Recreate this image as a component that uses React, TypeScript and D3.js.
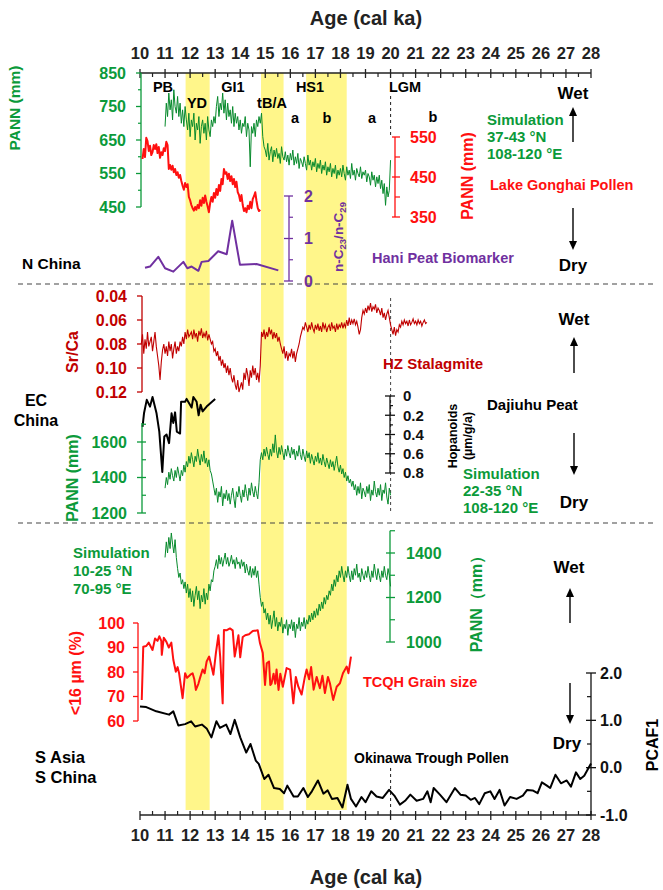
import React from "react";
import * as d3 from "d3";

// ---------------- DATA ----------------
const AGE_TICKS = [10, 11, 12, 13, 14, 15, 16, 17, 18, 19, 20, 21, 22, 23, 24, 25, 26, 27, 28];
const AGE_MINOR = [10.5, 11.5, 12.5, 13.5, 14.5, 15.5, 16.5, 17.5, 18.5, 19.5, 20.5, 21.5, 22.5, 23.5, 24.5, 25.5, 26.5, 27.5];
const BANDS: [number, number][] = [[11.82, 12.78], [14.83, 15.73], [16.63, 18.25]];

// N China simulation (37-43N, 108-120E), 11.0 - 20.0 ka, every 0.05 ka
const N_SIM_START = 11.0;
const N_SIM = [
  690, 760, 720, 790, 740, 770, 710, 800, 750, 730,
  780, 720, 760, 700, 740, 690, 750, 710, 680, 730,
  660, 710, 690, 730, 650, 700, 680, 720, 640, 690,
  710, 670, 700, 650, 720, 680, 660, 710, 690, 720,
  700, 750, 780, 720, 760, 740, 790, 730, 770, 710,
  760, 720, 740, 700, 750, 690, 730, 700, 720, 680,
  710, 670, 700, 690, 720, 660, 700, 680, 570, 690,
  670, 700, 660, 710, 690, 720, 700, 730, 660, 630,
  620, 600, 640, 590, 615, 630, 585, 620, 600, 625,
  595, 610, 580, 630, 600, 590, 615, 585, 605, 575,
  610, 590, 620, 575, 600, 580, 610, 565, 595, 585,
  570, 600, 580, 560, 605, 575, 590, 560, 585, 570,
  595, 555, 580, 565, 590, 550, 575, 560, 585, 545,
  570, 555, 580, 540, 565, 550, 575, 535, 560, 545,
  565, 540, 575, 550, 530, 570, 545, 560, 535, 580,
  545, 560, 530, 565, 550, 540, 570, 535, 555, 545,
  560, 525, 550, 540, 515, 555, 530, 545, 510, 540,
  520, 545, 505, 530, 490, 520, 455, 510, 480, 500,
  590,
];

// Lake Gonghai pollen PANN, 10.1 - 14.8 ka every 0.05 ka
const GONGHAI_START = 10.1;
const GONGHAI = [
  495, 520, 500, 548, 540, 515, 528, 505, 512, 530,
  520, 532, 510, 525, 498, 512, 505, 522, 515, 538,
  530, 470, 480, 468, 478, 462, 470, 455, 462, 448,
  455, 440, 428, 418, 435, 425, 432, 400, 392, 380,
  372, 366, 375, 368, 380, 372, 392, 378, 398, 385,
  404, 388, 376, 362, 385, 400, 388, 410, 398, 420,
  405, 430, 415, 445, 432, 470, 458, 462, 445, 458,
  440, 452, 432, 445, 425, 438, 412, 405, 390, 405,
  380, 365, 372, 362, 378, 370, 388, 372, 395, 402,
  412, 390, 372, 365, 368,
];

// Hani peat n-C23/n-C29
const HANI_AGE = [10.2, 10.4, 10.73, 11.0, 11.33, 11.73, 11.89, 12.06, 12.33, 12.46, 12.73, 13.12, 13.46, 13.68, 13.99, 14.65, 15.52];
const HANI_VAL = [0.31, 0.34, 0.57, 0.3, 0.22, 0.45, 0.3, 0.34, 0.24, 0.45, 0.47, 0.7, 0.63, 1.42, 0.38, 0.4, 0.25];

// HZ stalagmite Sr/Ca, 10.05 - 21.45 ka every 0.05 ka
const HZ_START = 10.05;
const HZ = [
  0.080, 0.072, 0.088, 0.076, 0.084, 0.070, 0.082, 0.078, 0.074, 0.086,
  0.078, 0.070, 0.082, 0.090, 0.098, 0.110, 0.095, 0.085, 0.080, 0.088,
  0.082, 0.090, 0.078, 0.086, 0.080, 0.092, 0.084, 0.078, 0.088, 0.082,
  0.086, 0.078, 0.082, 0.074, 0.080, 0.070, 0.076, 0.068, 0.074, 0.072,
  0.070, 0.076, 0.068, 0.074, 0.071, 0.078, 0.069, 0.073, 0.067, 0.075,
  0.071, 0.074, 0.069, 0.077, 0.072, 0.076, 0.080, 0.078, 0.086, 0.084,
  0.090, 0.086, 0.094, 0.090, 0.098, 0.093, 0.100, 0.096, 0.104, 0.098,
  0.106, 0.100, 0.108, 0.112, 0.106, 0.114, 0.118, 0.110, 0.120, 0.116,
  0.112, 0.118, 0.104, 0.110, 0.100, 0.106, 0.115, 0.102, 0.108, 0.098,
  0.106, 0.100, 0.110, 0.104, 0.112, 0.098, 0.070, 0.074, 0.068, 0.076,
  0.070, 0.074, 0.066, 0.072, 0.068, 0.076, 0.070, 0.075, 0.071, 0.078,
  0.074, 0.080, 0.084, 0.088, 0.082, 0.092, 0.086, 0.094, 0.088, 0.090,
  0.084, 0.092, 0.086, 0.095, 0.088, 0.084, 0.080, 0.074, 0.070, 0.066,
  0.068, 0.062, 0.066, 0.070, 0.064, 0.068, 0.062, 0.067, 0.070, 0.064,
  0.068, 0.063, 0.069, 0.065, 0.070, 0.062, 0.067, 0.064, 0.070, 0.066,
  0.064, 0.069, 0.062, 0.067, 0.065, 0.070, 0.063, 0.068, 0.064, 0.066,
  0.062, 0.067, 0.063, 0.066, 0.060, 0.065, 0.058, 0.064, 0.060, 0.063,
  0.059, 0.064, 0.061, 0.066, 0.072, 0.068, 0.058, 0.052, 0.055, 0.050,
  0.054, 0.048, 0.052, 0.046, 0.053, 0.049, 0.051, 0.047, 0.054, 0.050,
  0.052, 0.056, 0.050, 0.058, 0.054, 0.060, 0.055, 0.052, 0.058, 0.064,
  0.068, 0.072, 0.066, 0.073, 0.068, 0.070, 0.064, 0.066, 0.061, 0.064,
  0.060, 0.063, 0.061, 0.065, 0.060, 0.064, 0.062, 0.059, 0.063, 0.061,
  0.064, 0.060, 0.063, 0.061, 0.065, 0.062, 0.060, 0.063, 0.062,
];

// Dajiuhu peat hopanoids
const HOP_AGE = [10.1, 10.16, 10.27, 10.4, 10.5, 10.66, 10.77, 10.89, 10.97, 11.06, 11.16, 11.26, 11.33, 11.4, 11.47, 11.6, 11.64, 11.8, 11.86, 12.06, 12.13, 12.26, 12.34, 12.42, 12.5, 12.66, 13.0];
const HOP_VAL = [0.32, 0.18, 0.04, 0.11, 0.01, 0.18, 0.37, 0.79, 0.42, 0.4, 0.49, 0.18, 0.28, 0.17, 0.37, 0.39, 0.06, 0.06, 0.03, 0.12, 0.01, 0.06, 0.2, 0.09, 0.16, 0.11, 0.03];

// EC China simulation (22-35N, 108-120E), 11.0 - 20.0 ka every 0.05 ka
const EC_SIM_START = 11.0;
const EC_SIM = [
  1340, 1400, 1360, 1430, 1390, 1450, 1410, 1380, 1440, 1400,
  1460, 1420, 1380, 1440, 1410, 1470, 1430, 1490, 1460, 1520,
  1480, 1540, 1500, 1460, 1520, 1490, 1560, 1510, 1470, 1530,
  1490, 1550, 1480, 1510, 1460, 1500, 1440, 1420, 1380, 1340,
  1300, 1340, 1260, 1320, 1290, 1350, 1240, 1310, 1280, 1330,
  1270, 1310, 1250, 1300, 1340, 1280, 1230, 1320, 1290, 1350,
  1300, 1260, 1330, 1290, 1360, 1310, 1270, 1340, 1300, 1370,
  1320, 1290, 1350, 1310, 1280, 1370, 1500, 1540, 1500, 1560,
  1520, 1570, 1530, 1500, 1560, 1520, 1590, 1540, 1640, 1550,
  1510, 1570, 1530, 1580, 1540, 1500, 1560, 1520, 1580, 1540,
  1510, 1570, 1530, 1560, 1500, 1550, 1520, 1580, 1530, 1500,
  1560, 1520, 1490, 1550, 1510, 1540, 1480, 1530, 1500, 1470,
  1520, 1490, 1540, 1480, 1510, 1470, 1530, 1490, 1460, 1510,
  1480, 1450, 1500, 1460, 1490, 1440, 1480, 1520, 1460, 1430,
  1470, 1420, 1450, 1400, 1430, 1380, 1410, 1370, 1390, 1350,
  1380, 1330, 1360, 1300, 1350, 1310, 1370, 1280, 1340, 1320,
  1290, 1350, 1310, 1360, 1270, 1330, 1300, 1380, 1320, 1290,
  1340, 1300, 1360, 1270, 1330, 1310, 1370, 1290, 1250, 1340,
  1300,
];

// S Asia simulation (10-25N, 70-95E), 11.0 - 20.0 ka every 0.05 ka
const SA_SIM_START = 11.0;
const SA_SIM = [
  1380, 1450, 1400, 1470, 1420, 1490, 1440, 1400, 1460, 1380,
  1330, 1290, 1310, 1260, 1280, 1240, 1270, 1220, 1260, 1200,
  1240, 1180, 1230, 1160, 1210, 1250, 1190, 1230, 1150, 1210,
  1180, 1240, 1170, 1220, 1190, 1260, 1230, 1280, 1270, 1320,
  1340, 1370, 1330, 1390, 1350, 1380, 1340, 1370, 1400, 1350,
  1380, 1340, 1360, 1390, 1350, 1370, 1330, 1380, 1350, 1360,
  1330, 1370, 1340, 1360, 1310, 1350, 1320, 1300, 1340, 1290,
  1330, 1300, 1340, 1290, 1320, 1260, 1200, 1160, 1180, 1130,
  1150, 1100, 1130, 1080, 1120, 1060, 1100, 1140, 1070, 1110,
  1050, 1090, 1070, 1110, 1040, 1080, 1060, 1100, 1030, 1080,
  1060, 1100, 1050, 1090, 1020, 1080, 1060, 1110, 1050, 1090,
  1070, 1110, 1060, 1100, 1080, 1120, 1090, 1130, 1100, 1140,
  1110, 1150, 1120, 1170, 1140, 1180, 1150, 1200, 1170, 1210,
  1190, 1230, 1210, 1260, 1230, 1280, 1250, 1300, 1270, 1320,
  1290, 1340, 1300, 1270, 1320, 1290, 1340, 1300, 1270, 1320,
  1280, 1330, 1300, 1350, 1290, 1310, 1270, 1330, 1300, 1280,
  1320, 1290, 1340, 1300, 1270, 1320, 1290, 1350, 1310, 1280,
  1330, 1300, 1270, 1320, 1290, 1340, 1300, 1280, 1330, 1300,
  1250,
];

// TCQH grain size (<16 um %)
const TCQH_AGE = [10.07, 10.13, 10.25, 10.35, 10.5, 10.6, 10.7, 10.77, 10.85, 10.87, 10.95, 11.05, 11.15, 11.25, 11.33, 11.43, 11.5, 11.56, 11.7, 11.8, 11.88, 12.01, 12.1, 12.17, 12.23, 12.33, 12.4, 12.5, 12.58, 12.66, 12.76, 12.86, 12.93, 13.03, 13.13, 13.2, 13.3, 13.35, 13.45, 13.59, 13.7, 13.78, 13.85, 13.93, 14.0, 14.1, 14.2, 14.35, 14.5, 14.7, 14.79, 14.9, 14.99, 15.06, 15.15, 15.2, 15.25, 15.33, 15.4, 15.45, 15.53, 15.6, 15.7, 15.85, 15.99, 16.12, 16.22, 16.32, 16.45, 16.58, 16.65, 16.75, 16.83, 16.93, 17.05, 17.18, 17.28, 17.38, 17.5, 17.58, 17.71, 17.85, 17.98, 18.1, 18.25, 18.32, 18.42];
const TCQH_VAL = [68.6, 90.3, 90.6, 92, 89, 93.7, 92.7, 94.6, 92.7, 87, 94, 92.4, 90, 92, 85, 80.1, 82, 79.5, 69.3, 79.5, 77.6, 78.9, 79.5, 76.9, 72.7, 75.2, 77.7, 81, 79.5, 84.3, 86.3, 82, 78.9, 87.8, 95, 86.3, 67.2, 97.1, 97, 97.8, 97, 86.3, 90.3, 95, 86, 94.3, 95, 95.4, 96.7, 97, 91.7, 87.8, 74.7, 83.6, 84.3, 74.7, 75.3, 79.3, 75.2, 81, 72.7, 79.3, 74, 81.6, 81, 67.2, 78, 74, 70.8, 78, 81, 77, 82, 72.8, 78, 73.4, 78.5, 71.4, 78, 75.4, 68.6, 74, 75.4, 79.5, 82.2, 79.5, 86.3];

// Okinawa Trough pollen PCAF1
const OKI_AGE = [10.0, 10.25, 10.65, 11.16, 11.33, 11.53, 11.8, 12.04, 12.2, 12.47, 12.67, 12.85, 13.05, 13.19, 13.44, 13.61, 13.78, 14.0, 14.24, 14.41, 14.62, 14.74, 14.96, 15.13, 15.35, 15.58, 15.75, 15.88, 16.13, 16.3, 16.52, 16.7, 16.86, 17.1, 17.32, 17.49, 17.66, 17.88, 18.08, 18.28, 18.42, 18.62, 18.84, 19.0, 19.23, 19.44, 19.69, 19.94, 20.15, 20.37, 20.58, 20.79, 21.04, 21.3, 21.47, 21.6, 21.72, 21.97, 22.23, 22.57, 22.79, 23.0, 23.2, 23.37, 23.54, 23.76, 23.98, 24.15, 24.35, 24.55, 24.77, 25.03, 25.28, 25.45, 25.67, 25.87, 26.04, 26.24, 26.37, 26.58, 26.8, 27.03, 27.2, 27.4, 27.57, 27.73, 28.0];
const OKI_VAL = [1.29, 1.28, 1.19, 1.12, 1.19, 0.89, 0.92, 0.98, 0.87, 0.91, 0.82, 0.64, 0.98, 0.84, 0.91, 0.71, 1.01, 0.64, 0.32, 0.5, 0.15, 0.08, -0.24, -0.15, -0.43, -0.45, -0.54, -0.38, -0.61, -0.61, -0.43, -0.62, -0.5, -0.27, -0.55, -0.48, -0.66, -0.64, -0.84, -0.36, -0.66, -0.82, -0.62, -0.73, -0.5, -0.61, -0.64, -0.47, -0.59, -0.78, -0.7, -0.57, -0.7, -0.66, -0.5, -0.73, -0.43, -0.57, -0.73, -0.43, -0.57, -0.59, -0.68, -0.64, -0.77, -0.54, -0.5, -0.66, -0.47, -0.8, -0.62, -0.66, -0.59, -0.47, -0.48, -0.54, -0.31, -0.38, -0.43, -0.15, -0.33, -0.27, -0.4, -0.1, -0.24, -0.17, 0.09];

// axis tick values
const N_TICKS = [450, 550, 650, 750, 850];
const N_MINOR = [500, 600, 700, 800];
const GH_TICKS = [350, 450, 550];
const GH_MINOR = [400, 500];
const HANI_TICKS = [0, 1, 2];
const HANI_MINOR = [0.5, 1.5];
const SRCA_TICKS = [0.04, 0.06, 0.08, 0.1, 0.12];
const HOP_TICKS = [0, 0.2, 0.4, 0.6, 0.8];
const HOP_MINOR = [0.1, 0.3, 0.5, 0.7];
const EC_TICKS = [1200, 1400, 1600];
const EC_MINOR = [1300, 1500, 1700];
const SA_TICKS = [1000, 1200, 1400];
const SA_MINOR = [1100, 1300, 1500];
const GR_TICKS = [60, 70, 80, 90, 100];
const PCA_TICKS = [-1, 0, 1, 2];
const PCA_MINOR = [-0.5, 0.5, 1.5];

// ---------------- STYLE ----------------
const FONT = "'Liberation Sans', Arial, Helvetica, sans-serif";
const GREEN = "#0b9a3a";
const GREEN_LINE = "#078a2c";
const RED = "#ff1010";
const DRED = "#c00000";
const PURPLE = "#7030a0";
const YELLOW = "#fff68a";

// ---------------- SCALES ----------------
const xS = d3.scaleLinear().domain([10, 28]).range([140, 591]);
const yN = d3.scaleLinear().domain([450, 850]).range([207, 73]);
const yGH = d3.scaleLinear().domain([350, 550]).range([217, 137]);
const yHani = d3.scaleLinear().domain([0, 2]).range([281, 196]);
const ySr = d3.scaleLinear().domain([0.04, 0.12]).range([296, 392]);
const yHop = d3.scaleLinear().domain([0, 0.8]).range([396, 473]);
const yEC = d3.scaleLinear().domain([1200, 1600]).range([513, 442]);
const ySA = d3.scaleLinear().domain([1000, 1400]).range([642, 553]);
const yGR = d3.scaleLinear().domain([60, 100]).range([721, 623]);
const yPCA = d3.scaleLinear().domain([-1, 2]).range([815, 673]);

const seq = (start: number, step: number, vals: number[]): [number, number][] =>
  vals.map((v, i) => [start + i * step, v]);
const zip = (a: number[], b: number[]): [number, number][] => a.map((x, i) => [x, b[i]]);

const pathOf = (data: [number, number][], y: d3.ScaleLinear<number, number>) =>
  d3.line<[number, number]>().x((d) => xS(d[0])).y((d) => y(d[1]))(data) || "";

type VAxisProps = {
  x: number;
  scale: d3.ScaleLinear<number, number>;
  extent: [number, number];
  major: number[];
  minor?: number[];
  color: string;
  labelX: number;
  anchor: "start" | "end";
  fmt?: (v: number) => string;
  mj?: [number, number];
  mn?: [number, number];
  fs?: number;
};

function VAxis({ x, scale, extent, major, minor = [], color, labelX, anchor, fmt = (v) => String(v), mj = [-4, 4], mn = [0, 4], fs = 16 }: VAxisProps) {
  return (
    <g>
      <line x1={x} x2={x} y1={scale(extent[0])} y2={scale(extent[1])} stroke={color} strokeWidth={1.3} />
      {major.map((v) => (
        <line key={"M" + v} x1={x + mj[0]} x2={x + mj[1]} y1={scale(v)} y2={scale(v)} stroke={color} strokeWidth={1.3} />
      ))}
      {minor.map((v) => (
        <line key={"m" + v} x1={x + mn[0]} x2={x + mn[1]} y1={scale(v)} y2={scale(v)} stroke={color} strokeWidth={1.2} />
      ))}
      {major.map((v) => (
        <text key={"t" + v} x={labelX} y={scale(v)} dy="0.36em" textAnchor={anchor} fill={color} fontSize={fs} fontWeight="bold" fontFamily={FONT}>
          {fmt(v)}
        </text>
      ))}
    </g>
  );
}

function T({ x, y, c = "#000", s = 14, a = "start", children, rot = false }: any) {
  return (
    <text
      x={x}
      y={y}
      fill={c}
      fontSize={s}
      fontWeight="bold"
      fontFamily={FONT}
      textAnchor={a}
      dominantBaseline={rot ? "central" : undefined}
      transform={rot ? `rotate(-90 ${x} ${y})` : undefined}
    >
      {children}
    </text>
  );
}

function Arrow({ x, y1, y2 }: { x: number; y1: number; y2: number }) {
  const dir = y2 < y1 ? -1 : 1;
  const hy = y2 - dir * 9;
  return (
    <g>
      <line x1={x} x2={x} y1={y1} y2={hy} stroke="#000" strokeWidth={1.4} />
      <path d={`M${x - 4},${hy} L${x + 4},${hy} L${x},${y2} Z`} fill="#000" />
    </g>
  );
}

function AgeAxis({ y, top }: { y: number; top: boolean }) {
  return (
    <g>
      <line x1={xS(10)} x2={xS(28)} y1={y} y2={y} stroke="#222" strokeWidth={1.3} />
      {AGE_TICKS.map((t) => (
        <line key={"M" + t} x1={xS(t)} x2={xS(t)} y1={y - 4} y2={y + 5} stroke="#222" strokeWidth={1.3} />
      ))}
      {AGE_MINOR.map((t) => (
        <line key={"m" + t} x1={xS(t)} x2={xS(t)} y1={top ? y : y - 4} y2={top ? y + 4 : y} stroke="#222" strokeWidth={1.2} />
      ))}
      {AGE_TICKS.map((t) => (
        <text key={"t" + t} x={xS(t)} y={top ? y - 14 : y + 26} textAnchor="middle" fontSize={16.5} fontWeight="bold" fill="#222" fontFamily={FONT}>
          {t}
        </text>
      ))}
    </g>
  );
}

export default function App() {
  const nSim = seq(N_SIM_START, 0.05, N_SIM);
  const gh = seq(GONGHAI_START, 0.05, GONGHAI);
  const hani = zip(HANI_AGE, HANI_VAL);
  const hz = seq(HZ_START, 0.05, HZ);
  const hop = zip(HOP_AGE, HOP_VAL);
  const ec = seq(EC_SIM_START, 0.05, EC_SIM);
  const sa = seq(SA_SIM_START, 0.05, SA_SIM);
  const gr = zip(TCQH_AGE, TCQH_VAL);
  const oki = zip(OKI_AGE, OKI_VAL);
  const x20 = xS(20);

  return (
    <svg width={663} height={890} style={{ position: "absolute", left: 0, top: 0, background: "#fff" }} fontFamily={FONT}>
      <rect x={0} y={0} width={663} height={890} fill="#fff" />
      {/* yellow bands */}
      {BANDS.map((b, i) => (
        <rect key={i} x={xS(b[0])} y={73} width={xS(b[1]) - xS(b[0])} height={737} fill={YELLOW} />
      ))}

      {/* titles & age axes */}
      <T x={366} y={25} s={20} a="middle" c="#222">Age (cal ka)</T>
      <AgeAxis y={73} top={true} />
      <AgeAxis y={815} top={false} />
      <T x={366} y={884} s={20} a="middle" c="#222">Age (cal ka)</T>

      {/* separators */}
      <line x1={18} x2={656} y1={284} y2={284} stroke="#444" strokeDasharray="5,4" strokeWidth={1.1} />
      <line x1={18} x2={656} y1={523} y2={523} stroke="#444" strokeDasharray="5,4" strokeWidth={1.1} />

      {/* LGM dashed lines */}
      <line x1={x20} x2={x20} y1={96} y2={137} stroke="#333" strokeDasharray="3,3" strokeWidth={1.1} />
      <line x1={x20} x2={x20} y1={298} y2={512} stroke="#555" strokeDasharray="3,3" strokeWidth={1.1} />
      <line x1={x20} x2={x20} y1={768} y2={812} stroke="#333" strokeDasharray="3,3" strokeWidth={1.1} />

      {/* ---- period labels ---- */}
      <T x={163} y={92} a="middle" s={14.5}>PB</T>
      <T x={233} y={92} a="middle" s={14.5}>GI1</T>
      <T x={310} y={92} a="middle" s={14.5}>HS1</T>
      <T x={405} y={92} a="middle" s={14.5}>LGM</T>
      <T x={197} y={108} a="middle" s={14.5}>YD</T>
      <T x={272} y={108} a="middle" s={14.5}>tB/A</T>
      <T x={295} y={123} a="middle" s={14.5}>a</T>
      <T x={327} y={123} a="middle" s={14.5}>b</T>
      <T x={372} y={123} a="middle" s={14.5}>a</T>
      <T x={433} y={122} a="middle" s={14.5}>b</T>

      {/* ---- TOP PANEL ---- */}
      <VAxis x={141} scale={yN} extent={[450, 850]} major={N_TICKS} minor={N_MINOR} color={GREEN} labelX={126} anchor="end" mj={[-5, 0]} mn={[-3, 0]} />
      <T x={14} y={108} c={GREEN} s={15.5} a="middle" rot>PANN (mm)</T>
      <path d={pathOf(nSim, yN)} fill="none" stroke={GREEN_LINE} strokeWidth={1} />

      <VAxis x={395} scale={yGH} extent={[350, 550]} major={GH_TICKS} minor={GH_MINOR} color={RED} labelX={410} anchor="start" mj={[-3, 5]} mn={[0, 5]} />
      <T x={467} y={176} c={RED} s={16} a="middle" rot>PANN (mm)</T>
      <path d={pathOf(gh, yGH)} fill="none" stroke={RED} strokeWidth={2} strokeLinejoin="round" />

      <VAxis x={289} scale={yHani} extent={[0, 2]} major={HANI_TICKS} minor={HANI_MINOR} color={PURPLE} labelX={304} anchor="start" mj={[-5, 4]} mn={[0, 4]} />
      <text x={338} y={237} fill={PURPLE} fontSize={13.5} fontWeight="bold" fontFamily={FONT} textAnchor="middle" dominantBaseline="central" transform="rotate(-90 338 237)">
        n-C<tspan fontSize={9.5} dy={4}>23</tspan><tspan dy={-4}>/n-C</tspan><tspan fontSize={9.5} dy={4}>29</tspan>
      </text>
      <path d={pathOf(hani, yHani)} fill="none" stroke={PURPLE} strokeWidth={2} strokeLinejoin="round" />

      <T x={487} y={125} c={GREEN} s={15}>Simulation</T>
      <T x={487} y={142} c={GREEN} s={15}>37-43 °N</T>
      <T x={487} y={159} c={GREEN} s={15}>108-120 °E</T>
      <T x={490} y={190} c={RED} s={14.5}>Lake Gonghai Pollen</T>
      <T x={372} y={263} c={PURPLE} s={14.5}>Hani Peat Biomarker</T>
      <T x={22} y={269} s={15.5}>N China</T>
      <T x={573} y={99} a="middle" s={17}>Wet</T>
      <Arrow x={573} y1={142} y2={107} />
      <Arrow x={573} y1={208} y2={250} />
      <T x={573} y={271} a="middle" s={17}>Dry</T>

      {/* ---- MIDDLE PANEL ---- */}
      <VAxis x={142} scale={ySr} extent={[0.04, 0.12]} major={SRCA_TICKS} color={DRED} labelX={127} anchor="end" fmt={(v) => v.toFixed(2)} mj={[-5, 0]} />
      <T x={72} y={352} c={DRED} s={16} a="middle" rot>Sr/Ca</T>
      <path d={pathOf(hz, ySr)} fill="none" stroke={DRED} strokeWidth={1.1} />

      <VAxis x={390} scale={yHop} extent={[0, 0.8]} major={HOP_TICKS} minor={HOP_MINOR} color="#111" labelX={403} anchor="start" fmt={(v) => String(v)} mj={[-5, 5]} mn={[0, 3]} fs={15} />
      <T x={453} y={436} s={12.5} a="middle" rot>Hopanoids</T>
      <T x={468} y={436} s={12.5} a="middle" rot>(µm/g/a)</T>
      <path d={pathOf(hop, yHop)} fill="none" stroke="#000" strokeWidth={2} strokeLinejoin="round" />

      <VAxis x={142} scale={yEC} extent={[1200, 1707]} major={EC_TICKS} minor={EC_MINOR} color={GREEN} labelX={127} anchor="end" mj={[-5, 4]} mn={[0, 4]} />
      <T x={72} y={478} c={GREEN} s={16} a="middle" rot>PANN (mm)</T>
      <path d={pathOf(ec, yEC)} fill="none" stroke={GREEN_LINE} strokeWidth={1} />

      <T x={383} y={369} c={DRED} s={15}>HZ Stalagmite</T>
      <T x={36} y={406} s={16} a="middle">EC</T>
      <T x={36} y={426} s={16} a="middle">China</T>
      <T x={487} y={410} s={15}>Dajiuhu Peat</T>
      <T x={463} y={479} c={GREEN} s={15}>Simulation</T>
      <T x={463} y={496} c={GREEN} s={15}>22-35 °N</T>
      <T x={463} y={513} c={GREEN} s={15}>108-120 °E</T>
      <T x={574} y={325} a="middle" s={17}>Wet</T>
      <Arrow x={574} y1={373} y2={337} />
      <Arrow x={574} y1={433} y2={475} />
      <T x={574} y={508} a="middle" s={17}>Dry</T>

      {/* ---- BOTTOM PANEL ---- */}
      <VAxis x={390} scale={ySA} extent={[1000, 1500]} major={SA_TICKS} minor={SA_MINOR} color={GREEN} labelX={406} anchor="start" mj={[-4, 5]} mn={[0, 5]} />
      <T x={476} y={600} c={GREEN} s={16} a="middle" rot>PANN（mm）</T>
      <path d={pathOf(sa, ySA)} fill="none" stroke={GREEN_LINE} strokeWidth={1} />

      <VAxis x={138} scale={yGR} extent={[60, 100]} major={GR_TICKS} color={RED} labelX={125} anchor="end" mj={[-5, 0]} />
      <T x={75} y={673} c={RED} s={16} a="middle" rot>&lt;16 µm (%)</T>
      <path d={pathOf(gr, yGR)} fill="none" stroke={RED} strokeWidth={2} strokeLinejoin="round" />

      <VAxis x={591} scale={yPCA} extent={[-1, 2]} major={PCA_TICKS} minor={PCA_MINOR} color="#111" labelX={600} anchor="start" fmt={(v) => v.toFixed(1)} mj={[-5, 5]} mn={[-4, 0]} />
      <T x={652} y={745} s={16} a="middle" rot>PCAF1</T>
      <path d={pathOf(oki, yPCA)} fill="none" stroke="#000" strokeWidth={2} strokeLinejoin="round" />

      <T x={73} y={558} c={GREEN} s={15}>Simulation</T>
      <T x={73} y={576} c={GREEN} s={15}>10-25 °N</T>
      <T x={73} y={594} c={GREEN} s={15}>70-95 °E</T>
      <T x={363} y={687} c={RED} s={14.5}>TCQH Grain size</T>
      <T x={354} y={763} s={14}>Okinawa Trough Pollen</T>
      <T x={35} y={763} s={16.5}>S Asia</T>
      <T x={35} y={783} s={16.5}>S China</T>
      <T x={569} y={573} a="middle" s={17}>Wet</T>
      <Arrow x={570} y1={623} y2={588} />
      <Arrow x={570} y1={683} y2={724} />
      <T x={567} y={749} a="middle" s={17}>Dry</T>
    </svg>
  );
}
